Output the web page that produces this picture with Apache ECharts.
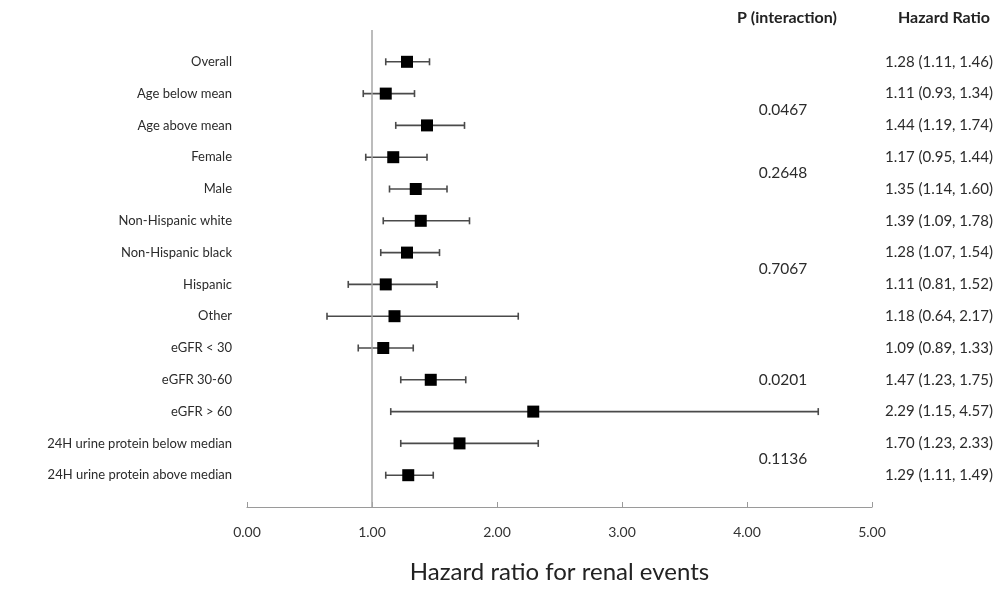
<!DOCTYPE html>
<html>
<head>
<meta charset="utf-8">
<script src="https://cdn.jsdelivr.net/npm/echarts@6/dist/echarts.min.js"></script>
<style>
html,body{margin:0;padding:0;background:#fff;}
#chart{width:1003px;height:589px;}
</style>
</head>
<body>
<div id="chart"></div>
<script>
const categories = ['Overall','Age below mean','Age above mean','Female','Male','Non-Hispanic white','Non-Hispanic black','Hispanic','Other','eGFR < 30','eGFR 30-60','eGFR > 60','24H urine protein below median','24H urine protein above median'];
const hazardRatio = [1.28,1.11,1.44,1.17,1.35,1.39,1.28,1.11,1.18,1.09,1.47,2.29,1.70,1.29];
const lowerCI = [1.11,0.93,1.19,0.95,1.14,1.09,1.07,0.81,0.64,0.89,1.23,1.15,1.23,1.11];
const upperCI = [1.46,1.34,1.74,1.44,1.60,1.78,1.54,1.52,2.17,1.33,1.75,4.57,2.33,1.49];
const pValues = ['0.0467','0.2648','0.7067','0.0201','0.1136'];
const pRowPositions = [2.5,4.5,7.5,11,13.5];
const xTicks = [0,1,2,3,4,5];
const headerP = 'P (interaction)';
const headerHR = 'Hazard Ratio';
const axisTitle = 'Hazard ratio for renal events';

const FONT = 'Lato, "Open Sans", sans-serif';
const rows = categories.map((c,i)=>i+1);
const hrLabels = hazardRatio.map((v,i)=>v.toFixed(2)+' ('+lowerCI[i].toFixed(2)+', '+upperCI[i].toFixed(2)+')');

const chart = echarts.init(document.getElementById('chart'), null, {renderer:'canvas'});

function textSeries(name, data, getText, xFn, align, size) {
  return {
    type:'custom', name, silent:true, clip:false, z:5,
    data,
    renderItem(params, api){
      const cs = params.coordSys;
      const y = api.coord([0, api.value(1)])[1];
      return {
        type:'text',
        x: xFn(cs),
        y: y,
        style:{
          text: getText(params.dataIndex),
          align: align, verticalAlign:'middle',
          fontSize: size, fontFamily: FONT, fill:'#2b2b2b'
        }
      };
    }
  };
}

const option = {
  backgroundColor:'#fff',
  animation:false,
  grid:{left:247, right:131, top:30, bottom:77},
  xAxis:{
    type:'value', position:'bottom', min:xTicks[0], max:xTicks[xTicks.length-1], interval:1,
    splitLine:{show:false},
    axisLine:{onZero:false, lineStyle:{color:'#9a9a9a', width:1.2}},
    axisTick:{inside:true, length:5, lineStyle:{color:'#9a9a9a'}},
    axisLabel:{formatter:v=>v.toFixed(2), fontSize:14, fontFamily:FONT, color:'#333', margin:18},
    name: axisTitle, nameLocation:'middle', nameGap:53,
    nameTextStyle:{fontSize:24, fontFamily:FONT, color:'#222'}
  },
  yAxis:{
    type:'value', min:0, max:15, inverse:true, show:false
  },
  graphic:[
    {type:'text', x:787, y:18, style:{text:headerP, align:'center', verticalAlign:'middle', fontSize:16, fontWeight:'bold', fontFamily:FONT, fill:'#222'}},
    {type:'text', x:944, y:18, style:{text:headerHR, align:'center', verticalAlign:'middle', fontSize:16, fontWeight:'bold', fontFamily:FONT, fill:'#222'}}
  ],
  series:[
    {
      type:'custom', name:'ci', silent:true, z:3,
      data: rows.map((r,i)=>[lowerCI[i], upperCI[i], r]),
      encode:{x:[0,1], y:2},
      renderItem(params, api){
        const p1 = api.coord([api.value(0), api.value(2)]);
        const p2 = api.coord([api.value(1), api.value(2)]);
        const st = {stroke:'#4a4a4a', lineWidth:1.6};
        return {type:'group', children:[
          {type:'line', shape:{x1:p1[0],y1:p1[1],x2:p2[0],y2:p2[1]}, style:st},
          {type:'line', shape:{x1:p1[0],y1:p1[1]-3.5,x2:p1[0],y2:p1[1]+3.5}, style:st},
          {type:'line', shape:{x1:p2[0],y1:p2[1]-3.5,x2:p2[0],y2:p2[1]+3.5}, style:st}
        ]};
      }
    },
    {
      type:'scatter', name:'hr', silent:true, z:4,
      symbol:'rect', symbolSize:12,
      itemStyle:{color:'#000', opacity:1},
      data: rows.map((r,i)=>[hazardRatio[i], r]),
      markLine:{
        silent:true, symbol:['none','none'], label:{show:false},
        lineStyle:{color:'#a6a6a6', width:1.5, type:'solid'},
        data:[{xAxis:1}]
      }
    },
    textSeries('labels', rows.map(r=>[0,r]), i=>categories[i], cs=>cs.x-15, 'right', 13),
    textSeries('hrText', rows.map(r=>[0,r]), i=>hrLabels[i], cs=>cs.x+cs.width+13, 'left', 15),
    textSeries('pText', pRowPositions.map(r=>[0,r]), i=>pValues[i], cs=>cs.x+cs.width-89, 'center', 15.5)
  ]
};
chart.setOption(option);
</script>
</body>
</html>
